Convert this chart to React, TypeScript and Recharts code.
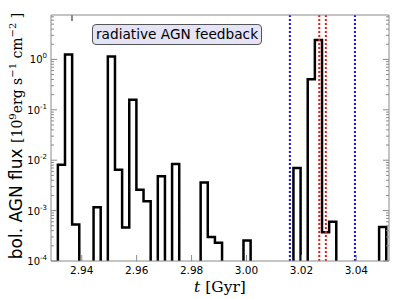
import { Line, LineChart, ReferenceLine, XAxis, YAxis } from "recharts";

const binEdges = [
  2.9313, 2.9339, 2.9365, 2.9391, 2.9417, 2.9443, 2.9469, 2.9495, 2.9521, 2.9547,
  2.9573, 2.9599, 2.9625, 2.9651, 2.9677, 2.9703, 2.9729, 2.9755, 2.9781, 2.9807,
  2.9833, 2.9859, 2.9885, 2.9911, 2.9937, 2.9963, 2.9989, 3.0015, 3.0041, 3.0067,
  3.0093, 3.0119, 3.0145, 3.0171, 3.0197, 3.0223, 3.0249, 3.0275, 3.0301, 3.0327,
  3.0353, 3.0379, 3.0405, 3.0431, 3.0457, 3.0483, 3.0509,
];

// flux per bin, 0 = empty bin
const flux = [
  8.1e-3, 1.25, 5.3e-4, 0, 0, 1.16e-3, 0, 1.14, 6.5e-3, 4.6e-4,
  0.158, 2.6e-3, 1.53e-3, 0, 4.8e-3, 0, 8.4e-3, 0, 0, 0,
  3.6e-3, 3.0e-4, 2.3e-4, 0, 0, 0, 2.55e-4, 0, 0, 0,
  0, 0, 0, 7.0e-3, 0, 0.405, 2.43, 3.7e-4, 6.0e-4, 0,
  0, 0, 0, 0, 0, 4.75e-4,
];

const blueLines = [3.0158, 3.0395];
const redLines = [3.0265, 3.0289];

const xTicks = [2.94, 2.96, 2.98, 3.0, 3.02, 3.04];
const yMajor = [1e-4, 1e-3, 1e-2, 1e-1, 1];

const X_DOMAIN: [number, number] = [2.9288, 3.0519];
const Y_DOMAIN: [number, number] = [1e-4, 7.6];
const FLOOR = 1e-6;
const GRAY = "#8a8a8a";

const yTicks: number[] = [];
yMajor.forEach((m) => {
  for (let k = 1; k <= 9; k++) {
    const v = m * k;
    if (v <= Y_DOMAIN[1]) yTicks.push(v);
  }
});

const data: { t: number; v: number }[] = [{ t: binEdges[0], v: FLOOR }];
flux.forEach((f, i) => data.push({ t: binEdges[i], v: f > 0 ? f : FLOOR }));
data.push({ t: binEdges[flux.length], v: flux[flux.length - 1] || FLOOR });
data.push({ t: binEdges[flux.length], v: FLOOR });

function isMajor(v: number) {
  const l = Math.log10(v);
  return Math.abs(l - Math.round(l)) < 1e-6;
}

function LeftTick({ x, y, payload }: any) {
  const v = payload.value;
  const major = isMajor(v);
  return (
    <g>
      <line x1={x} x2={x + (major ? 6 : 3)} y1={y} y2={y} stroke={GRAY} strokeWidth={1} />
      {major && (
        <text x={x - 4} y={y + 4} textAnchor="end" fontSize={10} fontFamily="DejaVu Sans" fill="#000">
          10
          <tspan dy={-5} fontSize={7}>
            {Math.round(Math.log10(v))}
          </tspan>
        </text>
      )}
    </g>
  );
}

function RightTick({ x, y, payload }: any) {
  const major = isMajor(payload.value);
  return <line x1={x} x2={x - (major ? 6 : 3)} y1={y} y2={y} stroke={GRAY} strokeWidth={1} />;
}

function BottomTick({ x, y, payload }: any) {
  return (
    <g>
      <line x1={x} x2={x} y1={y} y2={y - 6} stroke={GRAY} strokeWidth={1} />
      <text x={x} y={y + 13} textAnchor="middle" fontSize={10.5} fontFamily="DejaVu Sans" fill="#000">
        {payload.value.toFixed(2)}
      </text>
    </g>
  );
}

function TopTick({ x, y }: any) {
  return <line x1={x} x2={x} y1={y} y2={y + 6} stroke={GRAY} strokeWidth={1} />;
}

export default function App() {
  return (
    <div style={{ position: "absolute", left: 0, top: 0, width: 399, height: 299 }}>
      <LineChart width={399} height={299} data={data} margin={{ top: 0, right: 0, left: 0, bottom: 0 }}>
        <XAxis
          dataKey="t"
          type="number"
          domain={X_DOMAIN}
          allowDataOverflow
          ticks={xTicks}
          interval={0}
          height={38}
          tickSize={0}
          tickMargin={0}
          tickLine={false}
          tick={<BottomTick />}
          axisLine={{ stroke: GRAY }}
        />
        <XAxis
          xAxisId="top"
          orientation="top"
          type="number"
          domain={X_DOMAIN}
          allowDataOverflow
          ticks={xTicks}
          interval={0}
          height={15}
          tickSize={0}
          tickMargin={0}
          tickLine={false}
          tick={<TopTick />}
          axisLine={{ stroke: GRAY }}
        />
        <YAxis
          scale="log"
          type="number"
          domain={Y_DOMAIN}
          allowDataOverflow
          ticks={yTicks}
          interval={0}
          width={51}
          tickSize={0}
          tickMargin={0}
          tickLine={false}
          tick={<LeftTick />}
          axisLine={{ stroke: GRAY }}
        />
        <YAxis
          yAxisId="right"
          orientation="right"
          scale="log"
          type="number"
          domain={Y_DOMAIN}
          allowDataOverflow
          ticks={yTicks}
          interval={0}
          width={10}
          tickSize={0}
          tickMargin={0}
          tickLine={false}
          tick={<RightTick />}
          axisLine={{ stroke: GRAY }}
        />
        <Line
          type="stepAfter"
          dataKey="v"
          stroke="#000"
          strokeWidth={2.5}
          strokeLinejoin="miter"
          dot={false}
          activeDot={false}
          isAnimationActive={false}
        />
        {blueLines.map((v) => (
          <ReferenceLine key={`b${v}`} x={v} stroke="#1010ff" strokeWidth={2} strokeDasharray="2 2" />
        ))}
        {redLines.map((v) => (
          <ReferenceLine key={`r${v}`} x={v} stroke="#ff1010" strokeWidth={2} strokeDasharray="2 2" />
        ))}
      </LineChart>
      <div
        style={{
          position: "absolute",
          left: 92,
          top: 24,
          width: 168,
          height: 19,
          border: "1px solid #555",
          borderRadius: 4,
          background: "#e4e4f6",
          fontFamily: "DejaVu Sans",
          fontSize: 13.7,
          lineHeight: "19px",
          textAlign: "center",
          color: "#000",
        }}
      >
        radiative AGN feedback
      </div>
      <svg width={399} height={299} style={{ position: "absolute", left: 0, top: 0, pointerEvents: "none" }}>
        <text transform="translate(22,136) rotate(-90)" textAnchor="middle" fill="#000">
          <tspan fontFamily="DejaVu Sans" fontSize={17}>
            bol. AGN flux{" "}
          </tspan>
          <tspan fontFamily="DejaVu Serif" fontSize={14}>
            [10
          </tspan>
          <tspan fontFamily="DejaVu Serif" fontSize={10} dy={-6}>
            9
          </tspan>
          <tspan fontFamily="DejaVu Serif" fontSize={14} dy={6}>
            erg s
          </tspan>
          <tspan fontFamily="DejaVu Serif" fontSize={10} dy={-6}>
            −1
          </tspan>
          <tspan fontFamily="DejaVu Serif" fontSize={14} dy={6}>
            {" "}cm
          </tspan>
          <tspan fontFamily="DejaVu Serif" fontSize={10} dy={-6}>
            −2
          </tspan>
          <tspan fontFamily="DejaVu Serif" fontSize={14} dy={6}>
            {" "}]
          </tspan>
        </text>
        <text x={220} y={292} textAnchor="middle" fontFamily="DejaVu Serif" fontSize={15.5} fill="#000">
          <tspan fontStyle="italic">t</tspan> [Gyr]
        </text>
      </svg>
    </div>
  );
}
